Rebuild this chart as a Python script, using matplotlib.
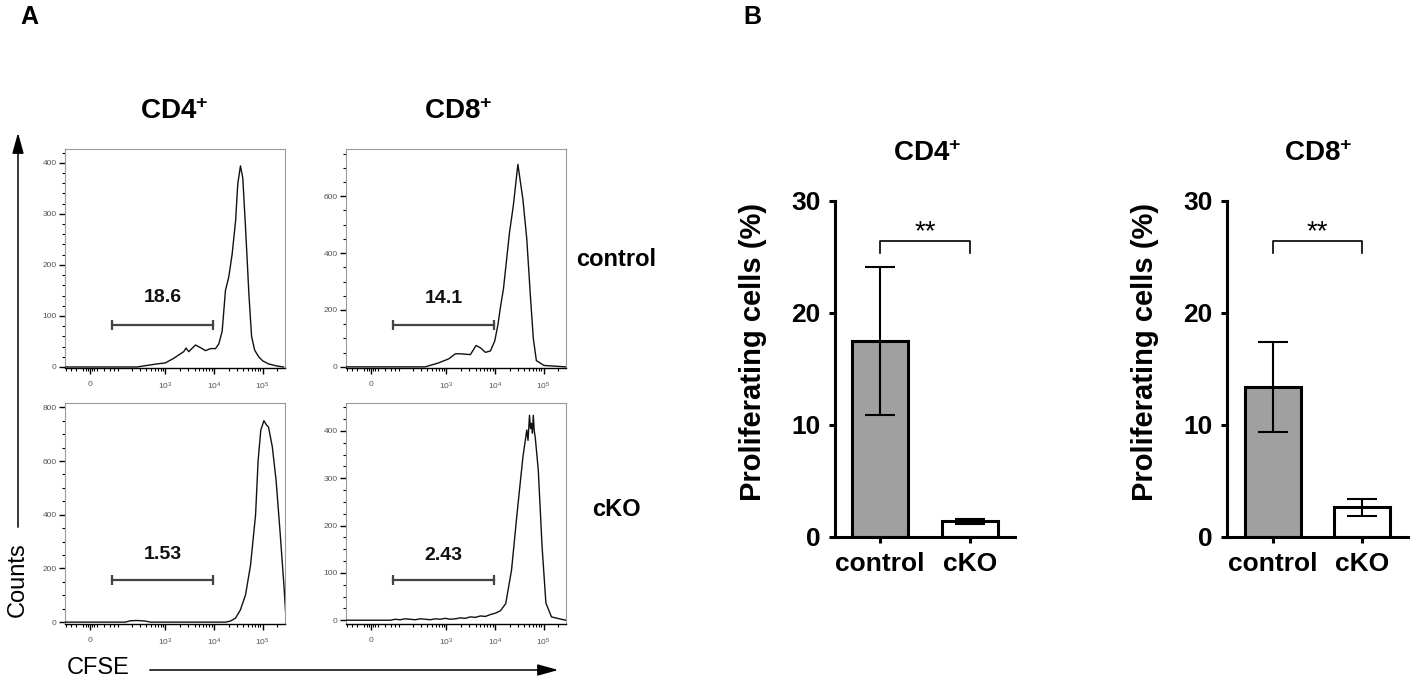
import numpy as np
import matplotlib
matplotlib.use("Agg")
import matplotlib.pyplot as plt
from matplotlib.ticker import MultipleLocator, FixedLocator, NullFormatter
from matplotlib.patches import FancyArrowPatch

plt.rcParams["font.family"] = ["Liberation Sans", "DejaVu Sans"]
plt.rcParams["mathtext.fontset"] = "custom"
plt.rcParams["mathtext.rm"] = "Liberation Sans"
plt.rcParams["mathtext.default"] = "regular"

W, H = 1417, 684

# ---- panel A: CFSE histograms (x = CFSE intensity, y = counts) ----
cd4_ctrl_x = [-85, 259, 491, 677, 1003, 1494, 2394, 2672, 3040, 4180, 5270, 6700, 8500,
              10800, 12600, 14800, 17300, 20300, 23800, 28000, 31000, 35200, 39300, 44800,
              52600, 59600, 68900, 83300, 100700, 133000, 195000, 270000]
cd4_ctrl_y = [0, 0, 4, 6, 8, 17, 30, 37, 30, 43, 38, 32, 36,
              36, 45, 70, 150, 177, 222, 287, 359, 394, 370, 272,
              141, 60, 33, 20, 12, 6, 2, 0]

cd8_ctrl_x = [-85, 368, 696, 1118, 1540, 1950, 3130, 4100, 5040, 6390, 8100, 9970, 11600,
              13000, 15000, 20000, 23900, 29700, 37700, 45300, 54200, 61700, 71300, 102000, 280000]
cd8_ctrl_y = [0, 0, 14, 28, 46, 46, 43, 75, 67, 51, 56, 92, 150,
              210, 274, 473, 566, 712, 589, 449, 239, 100, 22, 5, 0]

cd4_cko_x = [-85, 145, 186, 262, 386, 491, 17300, 22000, 27900, 35200, 44800, 56800, 72000,
             81100, 92200, 106800, 121000, 132600, 159000, 190000, 228000, 274000, 298000]
cd4_cko_y = [0, 0, 5, 6, 4, 0, 0, 4, 15, 46, 102, 213, 400,
             600, 715, 750, 734, 727, 653, 529, 343, 144, 40]

cd8_cko_x = [-85, 60, 80, 106, 137, 177, 226, 290, 368, 467, 594, 753, 954, 1210, 1540, 1950,
             2470, 3130, 3970, 5040, 6390, 8100, 10300, 13000, 16700, 22000, 28600, 37700,
             45300, 48000, 51500, 54000, 56400, 59000, 61700, 64500, 67500, 78100, 93500,
             112000, 146000, 232000, 290000]
cd8_cko_y = [0, 0, 2, 1, 3, 2, 1, 3, 2, 1, 3, 2, 4, 2, 3, 5,
             4, 7, 6, 9, 8, 12, 15, 20, 35, 106, 226, 345,
             402, 380, 433, 405, 416, 395, 433, 400, 387, 317, 155,
             36, 7, 2, 0]

gate_x = [70, 9500]
gate_pct = ["18.6", "14.1", "1.53", "2.43"]
gate_y = [82, 147, 156, 85]
gate_label_y = [137, 239, 253, 137]

# ---- panel B: proliferating cells (%) ----
groups = ["control", "cKO"]
cd4_mean = [17.5, 1.4]
cd4_sd = [6.6, 0.2]
cd8_mean = [13.4, 2.65]
cd8_sd = [4.0, 0.75]

C = 57.0


def fwd(x):
    return np.arcsinh(np.asarray(x, dtype=float) / C)


def inv(y):
    return C * np.sinh(np.asarray(y, dtype=float))


def box(l, t, r, b):
    return [l / W, 1 - b / H, (r - l) / W, (b - t) / H]


fig = plt.figure(figsize=(W / 100, H / 100), dpi=100)


def hist_panel(rect, xs, ys, ylim, ymaj, ymin, k):
    ax = fig.add_axes(box(*rect))
    ax.set_xscale("function", functions=(fwd, inv))
    ax.plot(xs, ys, color="#111111", lw=1.0, zorder=3, clip_on=True)
    ax.set_xlim(-85, 290000)
    ax.set_ylim(*ylim)
    ax.set_xticks([0, 1e3, 1e4, 1e5], ["0", "$10^3$", "$10^4$", "$10^5$"])
    minors = [-80, -60, -40, -20, -10, -5, 5, 10, 20, 40, 60, 80, 100] + \
        [m * d for d in (100, 1000, 10000) for m in range(2, 10)] + [2e5]
    ax.xaxis.set_minor_locator(FixedLocator(minors))
    ax.xaxis.set_minor_formatter(NullFormatter())
    ax.yaxis.set_major_locator(MultipleLocator(ymaj))
    ax.yaxis.set_minor_locator(MultipleLocator(ymin))
    ax.tick_params(which="major", length=4, width=1.0, labelsize=6, labelcolor="#555555", pad=2)
    ax.tick_params(which="minor", length=2, width=0.8)
    ax.tick_params(axis="x", which="major", pad=5)
    for s in ("top", "right", "left"):
        ax.spines[s].set_color("#9a9a9a")
        ax.spines[s].set_linewidth(0.8)
    ax.spines["bottom"].set_linewidth(1.0)
    # gate
    ax.plot(gate_x, [gate_y[k]] * 2, color="#444444", lw=1.6, marker="|",
            markersize=7, mew=1.6, zorder=4)
    xm = inv((fwd(gate_x[0]) + fwd(gate_x[1])) / 2)
    ax.text(xm, gate_label_y[k], gate_pct[k], ha="center", va="center",
            fontsize=14, fontweight="bold", color="#111111")
    return ax


hist_panel((65, 149, 285, 368), cd4_ctrl_x, cd4_ctrl_y, (-2, 427), 100, 20, 0)
hist_panel((346, 149, 566, 368), cd8_ctrl_x, cd8_ctrl_y, (-4, 766), 200, 50, 1)
hist_panel((65, 403, 285, 624), cd4_cko_x, cd4_cko_y, (-7, 816), 200, 50, 2)
hist_panel((346, 403, 566, 624), cd8_cko_x, cd8_cko_y, (-8, 459), 100, 25, 3)


def ftext(x, y, s, **kw):
    fig.text(x / W, 1 - y / H, s, **kw)


ftext(29, 17, "A", fontsize=18, fontweight="bold", ha="center", va="center")
ftext(752, 17, "B", fontsize=18, fontweight="bold", ha="center", va="center")
ftext(174, 112, "CD4$^{+}$", fontsize=20, fontweight="bold", ha="center", va="center")
ftext(458, 112, "CD8$^{+}$", fontsize=20, fontweight="bold", ha="center", va="center")
ftext(616, 260, "control", fontsize=17, fontweight="bold", ha="center", va="center")
ftext(616, 509, "cKO", fontsize=17, fontweight="bold", ha="center", va="center")
ftext(18, 580, "Counts", fontsize=17, rotation=90, ha="center", va="center")
ftext(67, 668, "CFSE", fontsize=17, ha="left", va="center")

arr_kw = dict(arrowstyle="-|>,head_length=0.9,head_width=0.25", mutation_scale=14,
              color="black", lw=1.1, transform=fig.transFigure)
fig.patches.append(FancyArrowPatch((18 / W, 1 - 530 / H), (18 / W, 1 - 130 / H), **arr_kw))
fig.patches.append(FancyArrowPatch((147 / W, 1 - 670 / H), (561 / W, 1 - 670 / H), **arr_kw))


def bar_panel(rect, means, sds, xlim, title, title_x, ylabel_x):
    ax = fig.add_axes(box(*rect))
    xpos = np.arange(len(groups))
    ax.bar(xpos, means, width=0.63, color=["#a0a0a0", "white"], edgecolor="black",
           linewidth=2.2, zorder=2)
    ax.errorbar(xpos, means, yerr=sds, fmt="none", ecolor="black", elinewidth=1.5,
                capsize=11, capthick=1.5, zorder=3)
    ax.plot([0, 0, 1, 1], [25.4, 26.4, 26.4, 25.4], color="black", lw=1.2)
    ax.text(0.5, 27.2, "**", ha="center", va="center", fontsize=20)
    ax.set_xlim(*xlim)
    ax.set_ylim(0, 30)
    ax.set_yticks([0, 10, 20, 30])
    ax.set_xticks(xpos, groups)
    for s in ("top", "right"):
        ax.spines[s].set_visible(False)
    for s in ("left", "bottom"):
        ax.spines[s].set_linewidth(2.2)
    ax.tick_params(length=4.5, width=2.2, labelsize=19, pad=6)
    for t in ax.get_xticklabels() + ax.get_yticklabels():
        t.set_fontweight("bold")
    ftext(title_x, 154, title, fontsize=20, fontweight="bold", ha="center", va="center")
    ftext(ylabel_x, 352, "Proliferating cells (%)", fontsize=21, fontweight="bold",
          rotation=90, ha="center", va="center")
    return ax


bar_panel((835, 201, 1015, 537), cd4_mean, cd4_sd, (-0.5, 1.5), "CD4$^{+}$", 927, 753)
bar_panel((1227, 201, 1408, 537), cd8_mean, cd8_sd, (-0.52, 1.52), "CD8$^{+}$", 1318, 1145)

fig.savefig("out.png", dpi=100)
